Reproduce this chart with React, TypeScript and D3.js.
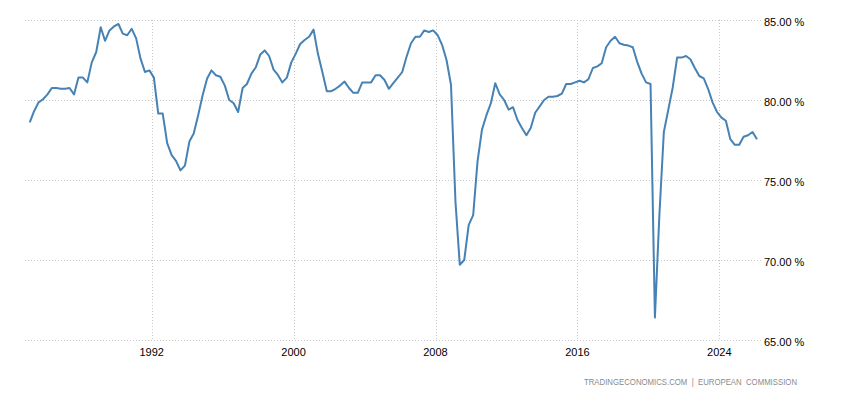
import React from "react";
import * as d3 from "d3";

// Quarterly values, 1985 Q1 .. 2026 Q1
const START_YEAR = 1985;
const values: number[] = [
  78.6, 79.3, 79.85, 80.05, 80.35, 80.75, 80.75, 80.7, 80.7, 80.75,
  80.35, 81.4, 81.4, 81.1, 82.35, 83.0, 84.55, 83.7, 84.35, 84.6,
  84.75, 84.15, 84.05, 84.45, 83.85, 82.6, 81.75, 81.85, 81.4, 79.15,
  79.15, 77.3, 76.55, 76.2, 75.6, 75.9, 77.4, 77.9, 79.05, 80.3,
  81.35, 81.85, 81.55, 81.45, 80.9, 80.0, 79.8, 79.25, 80.75, 81.0,
  81.65, 82.05, 82.85, 83.1, 82.75, 81.9, 81.55, 81.1, 81.4, 82.35,
  82.9, 83.5, 83.75, 83.95, 84.4, 82.9, 81.75, 80.55, 80.55, 80.7,
  80.9, 81.15, 80.75, 80.45, 80.45, 81.1, 81.1, 81.1, 81.55, 81.55,
  81.25, 80.7, 81.05, 81.4, 81.75, 82.7, 83.55, 83.95, 83.95, 84.35,
  84.25, 84.35, 84.05, 83.45, 82.5, 80.95, 73.65, 69.7, 70.0, 72.2,
  72.8, 76.15, 78.15, 79.05, 79.8, 81.05, 80.35, 80.0, 79.4, 79.55,
  78.75, 78.25, 77.8, 78.25, 79.2, 79.6, 80.0, 80.2, 80.2, 80.25,
  80.4, 81.0, 81.0, 81.1, 81.2, 81.1, 81.3, 82.0, 82.1, 82.3,
  83.3, 83.7, 83.95, 83.55, 83.45, 83.4, 83.3, 82.4, 81.65, 81.1,
  81.0, 66.4, 72.8, 78.0, 79.4, 80.75, 82.65, 82.65, 82.75, 82.55,
  82.0, 81.5, 81.35, 80.7, 79.85, 79.25, 78.9, 78.7, 77.55, 77.2,
  77.2, 77.7, 77.8, 78.0, 77.55,
];
const xTickYears = [1992, 2000, 2008, 2016, 2024];
const yTicks = [65, 70, 75, 80, 85];
const sourceText = "TRADINGECONOMICS.COM  |  EUROPEAN  COMMISSION";

const W = 850;
const H = 400;

export default function App() {
  const x = d3
    .scaleTime()
    .domain([new Date(1992, 0, 1), new Date(2024, 0, 1)])
    .range([151.7, 719.3]);
  const y = d3.scaleLinear().domain([65, 85]).range([340, 20]);

  const pts = values.map((v, i) => {
    const yr = START_YEAR + Math.floor(i / 4);
    const q = i % 4;
    return { date: new Date(yr, q * 3 + 1, 15), v };
  });

  const line = d3
    .line<{ date: Date; v: number }>()
    .x((d) => x(d.date))
    .y((d) => y(d.v));

  const font = "'Liberation Sans', Arial, sans-serif";

  return (
    <svg
      width={W}
      height={H}
      style={{ position: "absolute", left: 0, top: 0, display: "block", background: "#fff" }}
    >
      {/* horizontal grid */}
      {yTicks.map((t) => (
        <line
          key={"h" + t}
          x1={25}
          x2={762}
          y1={Math.round(y(t)) + 0.5}
          y2={Math.round(y(t)) + 0.5}
          stroke="#c6c6c6"
          strokeWidth={1}
          strokeDasharray="1 2"
        />
      ))}
      {/* vertical grid */}
      {xTickYears.map((yr) => {
        const xx = Math.round(x(new Date(yr, 0, 1))) + 0.5;
        return (
          <line
            key={"v" + yr}
            x1={xx}
            x2={xx}
            y1={20}
            y2={340}
            stroke="#c6c6c6"
            strokeWidth={1}
            strokeDasharray="1 2"
          />
        );
      })}
      {/* y labels */}
      {yTicks.map((t) => (
        <text
          key={"yl" + t}
          x={764}
          y={y(t) + 5.5}
          fontFamily={font}
          fontSize={11}
          fill="#000"
        >
          {d3.format(".2f")(t) + " %"}
        </text>
      ))}
      {/* x labels */}
      {xTickYears.map((yr) => (
        <text
          key={"xl" + yr}
          x={x(new Date(yr, 0, 1))}
          y={356}
          textAnchor="middle"
          fontFamily={font}
          fontSize={11}
          fill="#000"
        >
          {yr}
        </text>
      ))}
      <path d={line(pts) ?? ""} fill="none" stroke="#4682b4" strokeWidth={2} strokeLinejoin="round" />
      <text
        x={797}
        y={385}
        textAnchor="end"
        fontFamily={font}
        fontSize={9}
        fill="#8a8a8a"
        textLength={213}
        lengthAdjust="spacingAndGlyphs"
        style={{ whiteSpace: "pre" }}
      >
        {sourceText}
      </text>
    </svg>
  );
}
